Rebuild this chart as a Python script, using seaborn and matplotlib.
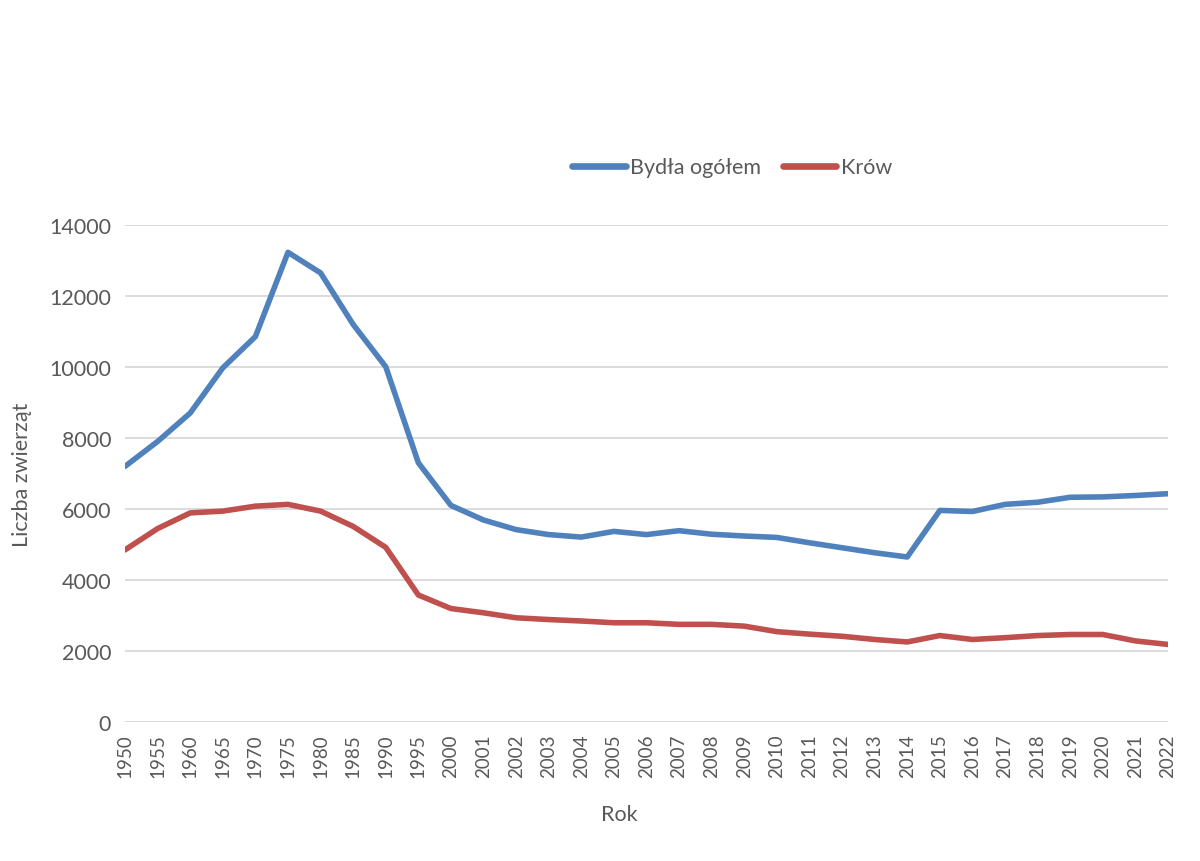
import matplotlib
matplotlib.use("Agg")
import matplotlib.pyplot as plt
import seaborn as sns
import pandas as pd
import numpy as np

# Years shown on the categorical x axis
years = ["1950", "1955", "1960", "1965", "1970", "1975", "1980", "1985", "1990", "1995",
         "2000", "2001", "2002", "2003", "2004", "2005", "2006", "2007", "2008", "2009",
         "2010", "2011", "2012", "2013", "2014", "2015", "2016", "2017", "2018", "2019",
         "2020", "2021", "2022"]

# Cattle total (thousand head)
bydla_ogolem = [7200, 7900, 8700, 9970, 10850, 13220, 12640, 11190, 10000, 7300,
                6100, 5690, 5420, 5280, 5210, 5370, 5280, 5390, 5290, 5240,
                5200, 5050, 4910, 4770, 4650, 5960, 5930, 6130, 6190, 6330,
                6340, 6380, 6430]

# Cows (thousand head)
krow = [4850, 5450, 5890, 5940, 6080, 6130, 5940, 5510, 4920, 3580,
        3200, 3080, 2940, 2890, 2850, 2800, 2800, 2755, 2755, 2705,
        2550, 2480, 2420, 2330, 2260, 2440, 2330, 2380, 2440, 2470,
        2470, 2290, 2190]

series_names = ["Bydła ogółem", "Krów"]
colors = ["#4F81BD", "#C0504D"]
y_ticks = [0, 2000, 4000, 6000, 8000, 10000, 12000, 14000]

sns.set_theme(style="white")
plt.rcParams["font.family"] = ["Lato", "DejaVu Sans"]

pos = np.arange(len(years))
df = pd.DataFrame({
    "pos": np.concatenate([pos, pos]),
    "value": bydla_ogolem + krow,
    "series": [series_names[0]] * len(years) + [series_names[1]] * len(years),
})

fig = plt.figure(figsize=(12, 8.62), dpi=100)
ax = fig.add_axes([0.1042, 0.1609, 0.8691, 0.5774])

sns.lineplot(data=df, x="pos", y="value", hue="series", palette=colors,
             hue_order=series_names, linewidth=4.0, ax=ax, legend=False,
             solid_capstyle="round", solid_joinstyle="round")

ax.set_xlim(0, len(years) - 1)
ax.set_ylim(0, 14000)
ax.set_yticks(y_ticks)
ax.set_yticklabels([str(v) for v in y_ticks], fontsize=15.5, color="#595959")
ax.set_xticks(pos)
ax.set_xticklabels(years, rotation=90, fontsize=13.5, color="#595959")
ax.tick_params(axis="y", length=0, pad=10)
ax.tick_params(axis="x", length=0, pad=8)

ax.grid(axis="y", color="#D9D9D9", linewidth=1.3)
ax.set_axisbelow(True)
for s in ax.spines.values():
    s.set_visible(False)

ax.set_xlabel("Rok", fontsize=15.5, color="#595959")
ax.xaxis.set_label_coords(0.4736, -0.165)
ax.set_ylabel("Liczba zwierząt", fontsize=15.5, color="#595959", labelpad=12)

handles = [plt.Line2D([], [], color=c, linewidth=4.8, solid_capstyle="round") for c in colors]
fig.legend(handles, series_names, loc="center", bbox_to_anchor=(0.61, 0.805), ncol=2,
           frameon=False, fontsize=15.5, handlelength=2.5, handletextpad=0.2,
           columnspacing=1.0, labelcolor="#595959")

fig.savefig("out.png", dpi=100, facecolor="white")
